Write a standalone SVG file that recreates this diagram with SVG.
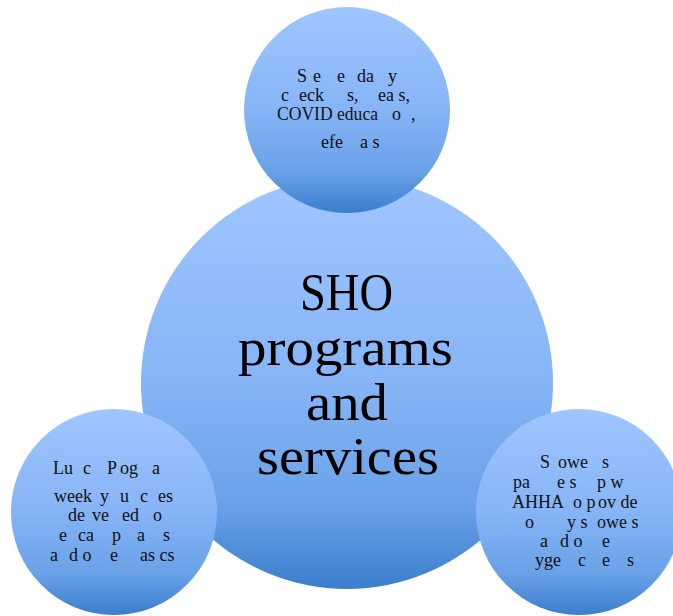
<svg xmlns="http://www.w3.org/2000/svg" width="673" height="616" viewBox="0 0 673 616">
  <defs>
    <!-- shared soft blue fill, light at the top, deeper at the bottom -->
    <linearGradient id="blueFill" x1="0" y1="0" x2="0" y2="1">
      <stop offset="0" stop-color="#a0c6ff"/>
      <stop offset="0.5" stop-color="#86b4f6"/>
      <stop offset="0.8" stop-color="#69a1e7"/>
      <stop offset="1" stop-color="#3a7ecd"/>
    </linearGradient>
  </defs>
  <style>
    .bubble { fill: url(#blueFill); stroke: none; }
    .label { font-family: "Liberation Serif", "Times New Roman", serif; font-size: 18px; fill: #111111; }
    .title { font-family: "Liberation Serif", "Times New Roman", serif; font-size: 53px; fill: #000000; }
  </style>

  <rect x="0" y="0" width="673" height="616" fill="#ffffff"/>

  <!-- central hub -->
  <g id="hub">
    <circle class="bubble" cx="347" cy="383" r="206"/>
    <text class="title" x="300" y="310" textLength="93" lengthAdjust="spacingAndGlyphs">SHO</text>
    <text class="title" x="238" y="365" textLength="215" lengthAdjust="spacingAndGlyphs">programs</text>
    <text class="title" x="306" y="420" textLength="82" lengthAdjust="spacingAndGlyphs">and</text>
    <text class="title" x="257" y="474" textLength="182" lengthAdjust="spacingAndGlyphs">services</text>
  </g>

  <!-- top satellite -->
  <g id="node-top">
    <circle class="bubble" cx="347" cy="110" r="103"/>
    <text class="label" y="82"><tspan x="297">S</tspan><tspan x="313">e</tspan><tspan x="337">e</tspan><tspan x="357">da</tspan><tspan x="388">y</tspan></text>
    <text class="label" y="101"><tspan x="281">c</tspan><tspan x="299">eck</tspan><tspan x="347">s,</tspan><tspan x="378">ea s,</tspan></text>
    <text class="label" y="120"><tspan x="277" textLength="101" lengthAdjust="spacingAndGlyphs">COVID educa</tspan><tspan x="392">o</tspan><tspan x="411">,</tspan></text>
    <text class="label" y="148"><tspan x="321">efe</tspan><tspan x="360">a s</tspan></text>
  </g>

  <!-- lower-left satellite -->
  <g id="node-left">
    <circle class="bubble" cx="114" cy="512" r="103"/>
    <text class="label" y="474"><tspan x="53">Lu</tspan><tspan x="83">c</tspan><tspan x="107">P</tspan><tspan x="120">og</tspan><tspan x="152">a</tspan></text>
    <text class="label" y="502"><tspan x="54">week</tspan><tspan x="100">y</tspan><tspan x="120">u</tspan><tspan x="140">c</tspan><tspan x="158">es</tspan></text>
    <text class="label" y="521"><tspan x="68">de</tspan><tspan x="92">ve</tspan><tspan x="122">ed</tspan><tspan x="153">o</tspan></text>
    <text class="label" y="541"><tspan x="59">e</tspan><tspan x="78">ca</tspan><tspan x="112">p</tspan><tspan x="137">a</tspan><tspan x="163">s</tspan></text>
    <text class="label" y="560.5"><tspan x="50">a</tspan><tspan x="69">d o</tspan><tspan x="110">e</tspan><tspan x="140">as cs</tspan></text>
  </g>

  <!-- lower-right satellite -->
  <g id="node-right">
    <circle class="bubble" cx="579" cy="512" r="103"/>
    <text class="label" y="468"><tspan x="540">S</tspan><tspan x="558">owe</tspan><tspan x="602">s</tspan></text>
    <text class="label" y="488"><tspan x="513">pa</tspan><tspan x="557">e s</tspan><tspan x="597">p w</tspan></text>
    <text class="label" y="508"><tspan x="512">AHHA</tspan><tspan x="573">o p</tspan><tspan x="598">ov de</tspan></text>
    <text class="label" y="528"><tspan x="525">o</tspan><tspan x="567">y s</tspan><tspan x="597">owe s</tspan></text>
    <text class="label" y="547"><tspan x="540">a</tspan><tspan x="560">d o</tspan><tspan x="602">e</tspan></text>
    <text class="label" y="566"><tspan x="535">yge</tspan><tspan x="578">c</tspan><tspan x="602">e</tspan><tspan x="627">s</tspan></text>
  </g>
</svg>
